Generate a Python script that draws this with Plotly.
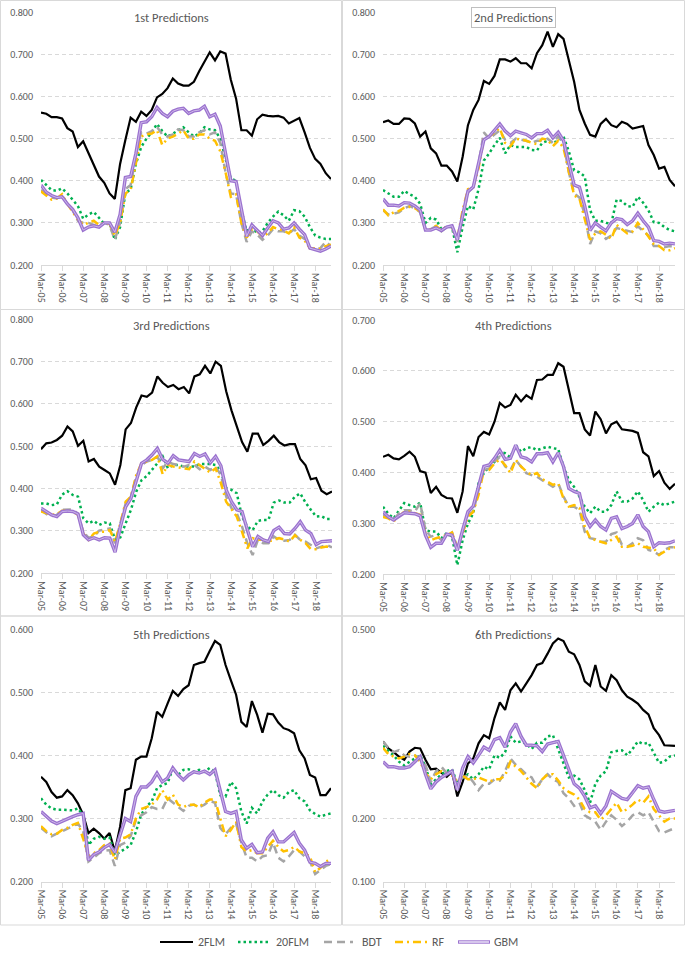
import plotly.graph_objects as go

W, H = 685, 956

# ---------------- categories / ticks ----------------
MONTHS = ["Mar", "Jun", "Sep", "Dec"]
YEARS = ["05", "06", "07", "08", "09", "10", "11", "12", "13", "14", "15", "16", "17", "18"]
QUARTERS = [f"{m}-{y}" for y in YEARS for m in MONTHS]
TICK_LABELS = ["Mar-05", "Mar-06", "Mar-07", "Mar-08", "Mar-09", "Mar-10", "Mar-11",
               "Mar-12", "Mar-13", "Mar-14", "Mar-15", "Mar-16", "Mar-17", "Mar-18"]

SERIES_NAMES = ["2FLM", "20FLM", "BDT", "RF", "GBM"]
PANEL_TITLES = ["1st Predictions", "2nd Predictions", "3rd Predictions",
                "4th Predictions", "5th Predictions", "6th Predictions"]

# ---------------- panel 1 ----------------
P1_2FLM = [0.562,0.559,0.551,0.551, 0.548,0.525,0.517,0.480, 0.494,0.465,0.435,0.410, 0.395,0.370,0.357,0.440,
           0.497,0.550,0.540,0.564, 0.554,0.568,0.598,0.606, 0.620,0.643,0.631,0.626, 0.626,0.635,0.660,0.684,
           0.705,0.686,0.707,0.702, 0.640,0.595,0.520,0.520, 0.507,0.546,0.557,0.554, 0.553,0.554,0.550,0.536,
           0.543,0.549,0.515,0.478, 0.452,0.440,0.418,0.404]
P1_20FLM = [0.402,0.390,0.378,0.376, 0.382,0.370,0.356,0.340, 0.310,0.320,0.326,0.312, 0.298,0.300,0.260,0.290,
            0.370,0.380,0.440,0.480, 0.500,0.515,0.535,0.518, 0.505,0.512,0.520,0.527, 0.515,0.505,0.512,0.527,
            0.522,0.520,0.500,0.450, 0.405,0.400,0.330,0.280, 0.290,0.275,0.280,0.300, 0.315,0.327,0.318,0.305,
            0.330,0.328,0.315,0.290, 0.270,0.265,0.262,0.262]
P1_BDT = [0.378,0.370,0.360,0.358, 0.365,0.345,0.330,0.305, 0.300,0.300,0.295,0.295, 0.300,0.295,0.260,0.300,
          0.380,0.390,0.460,0.515, 0.512,0.518,0.528,0.510, 0.505,0.510,0.522,0.520, 0.505,0.505,0.515,0.520,
          0.510,0.515,0.490,0.420, 0.370,0.368,0.300,0.255, 0.280,0.272,0.260,0.270, 0.285,0.280,0.280,0.275,
          0.285,0.270,0.262,0.240, 0.238,0.240,0.255,0.245]
P1_RF = [0.375,0.365,0.355,0.358, 0.368,0.345,0.325,0.308, 0.295,0.300,0.305,0.295, 0.300,0.298,0.270,0.300,
         0.370,0.378,0.440,0.505, 0.510,0.512,0.520,0.485, 0.500,0.505,0.512,0.520, 0.500,0.500,0.510,0.510,
         0.500,0.495,0.470,0.420, 0.362,0.368,0.300,0.265, 0.285,0.280,0.268,0.275, 0.290,0.285,0.282,0.275,
         0.290,0.265,0.258,0.240, 0.240,0.238,0.245,0.248]
P1_GBM = [0.390,0.373,0.365,0.360, 0.362,0.345,0.332,0.312, 0.283,0.290,0.293,0.290, 0.300,0.300,0.278,0.320,
          0.408,0.410,0.465,0.538, 0.540,0.552,0.574,0.560, 0.552,0.565,0.570,0.572, 0.560,0.566,0.568,0.577,
          0.552,0.558,0.530,0.460, 0.400,0.398,0.330,0.268, 0.295,0.283,0.270,0.288, 0.305,0.300,0.285,0.288,
          0.300,0.285,0.272,0.240, 0.237,0.233,0.238,0.245]

# ---------------- panel 2 ----------------
P2_2FLM = [0.539,0.543,0.535,0.535, 0.548,0.547,0.536,0.505, 0.517,0.477,0.465,0.436, 0.436,0.422,0.398,0.457,
           0.532,0.568,0.592,0.637, 0.630,0.649,0.688,0.688, 0.683,0.691,0.679,0.679, 0.667,0.703,0.722,0.754,
           0.718,0.748,0.737,0.687, 0.635,0.568,0.536,0.509, 0.505,0.535,0.547,0.532, 0.527,0.540,0.535,0.524,
           0.527,0.530,0.485,0.461, 0.429,0.433,0.402,0.387]
P2_20FLM = [0.378,0.370,0.362,0.362, 0.376,0.368,0.362,0.345, 0.300,0.312,0.308,0.285, 0.290,0.290,0.230,0.290,
            0.340,0.332,0.380,0.448, 0.465,0.485,0.502,0.465, 0.485,0.480,0.480,0.480, 0.473,0.472,0.490,0.495,
            0.490,0.495,0.505,0.470, 0.425,0.420,0.410,0.330, 0.305,0.305,0.300,0.298, 0.355,0.352,0.340,0.338,
            0.362,0.348,0.330,0.302, 0.300,0.290,0.283,0.280]
P2_BDT = [0.330,0.320,0.322,0.325, 0.335,0.340,0.335,0.325, 0.285,0.285,0.292,0.280, 0.290,0.292,0.255,0.310,
          0.372,0.385,0.440,0.515, 0.500,0.510,0.520,0.497, 0.490,0.500,0.497,0.495, 0.490,0.495,0.495,0.500,
          0.490,0.505,0.490,0.420, 0.370,0.360,0.320,0.250, 0.280,0.275,0.262,0.270, 0.288,0.285,0.282,0.278,
          0.292,0.280,0.270,0.245, 0.245,0.242,0.245,0.242]
P2_RF = [0.332,0.318,0.325,0.328, 0.336,0.338,0.335,0.327, 0.283,0.285,0.293,0.282, 0.292,0.290,0.262,0.330,
         0.380,0.385,0.430,0.500, 0.505,0.515,0.525,0.490, 0.482,0.500,0.497,0.495, 0.490,0.487,0.500,0.497,
         0.482,0.495,0.478,0.420, 0.365,0.358,0.310,0.260, 0.275,0.280,0.272,0.262, 0.295,0.285,0.275,0.280,
         0.300,0.285,0.268,0.250, 0.245,0.235,0.235,0.240]
P2_GBM = [0.357,0.342,0.342,0.340, 0.348,0.347,0.340,0.330, 0.283,0.283,0.288,0.282, 0.290,0.293,0.260,0.320,
          0.375,0.385,0.440,0.497, 0.505,0.520,0.535,0.518, 0.507,0.518,0.513,0.510, 0.502,0.512,0.512,0.520,
          0.502,0.515,0.495,0.440, 0.390,0.385,0.340,0.282, 0.300,0.290,0.281,0.300, 0.310,0.308,0.296,0.305,
          0.323,0.305,0.290,0.258, 0.256,0.250,0.252,0.250]

# ---------------- panel 3 ----------------
P3_2FLM = [0.493,0.507,0.509,0.515, 0.525,0.547,0.535,0.501, 0.513,0.464,0.470,0.452, 0.444,0.436,0.409,0.456,
           0.540,0.555,0.592,0.620, 0.617,0.627,0.665,0.650, 0.640,0.645,0.635,0.640, 0.625,0.665,0.670,0.690,
           0.672,0.700,0.690,0.630, 0.585,0.545,0.510,0.487, 0.530,0.530,0.503,0.513, 0.525,0.510,0.502,0.505,
           0.505,0.470,0.455,0.422, 0.425,0.395,0.387,0.393]
P3_20FLM = [0.365,0.365,0.361,0.363, 0.386,0.394,0.385,0.381, 0.330,0.318,0.324,0.314, 0.320,0.318,0.279,0.285,
            0.318,0.350,0.393,0.420, 0.430,0.444,0.460,0.476, 0.448,0.456,0.456,0.452, 0.452,0.452,0.458,0.458,
            0.458,0.456,0.440,0.401, 0.397,0.389,0.334,0.310, 0.302,0.324,0.326,0.326, 0.367,0.372,0.367,0.367,
            0.381,0.389,0.367,0.350, 0.334,0.335,0.328,0.328]
P3_BDT = [0.350,0.340,0.335,0.338, 0.350,0.350,0.351,0.340, 0.298,0.284,0.287,0.301, 0.304,0.306,0.271,0.318,
          0.365,0.381,0.428,0.456, 0.464,0.468,0.476,0.448, 0.464,0.458,0.456,0.452, 0.456,0.456,0.446,0.452,
          0.444,0.452,0.432,0.381, 0.354,0.342,0.310,0.271, 0.243,0.279,0.271,0.271, 0.287,0.279,0.277,0.279,
          0.291,0.279,0.275,0.267, 0.259,0.263,0.267,0.261]
P3_RF = [0.346,0.342,0.338,0.340, 0.348,0.348,0.346,0.338, 0.294,0.279,0.294,0.298, 0.298,0.302,0.275,0.318,
         0.369,0.381,0.432,0.460, 0.464,0.468,0.476,0.434, 0.456,0.452,0.450,0.448, 0.446,0.464,0.456,0.448,
         0.438,0.448,0.413,0.369, 0.350,0.334,0.298,0.259, 0.283,0.279,0.279,0.275, 0.279,0.283,0.280,0.275,
         0.290,0.279,0.271,0.257, 0.257,0.261,0.263,0.261]
P3_GBM = [0.354,0.346,0.338,0.334, 0.346,0.347,0.346,0.340, 0.291,0.279,0.284,0.279, 0.284,0.283,0.250,0.310,
          0.357,0.377,0.420,0.460, 0.468,0.480,0.495,0.469, 0.460,0.478,0.468,0.465, 0.464,0.483,0.476,0.482,
          0.461,0.476,0.454,0.397, 0.369,0.350,0.346,0.302, 0.263,0.287,0.279,0.275, 0.301,0.309,0.294,0.293,
          0.306,0.322,0.302,0.294, 0.268,0.275,0.275,0.277]

# ---------------- panel 4 ----------------
P4_2FLM = [0.431,0.435,0.428,0.426, 0.433,0.441,0.431,0.403, 0.400,0.360,0.372,0.356, 0.350,0.349,0.321,0.363,
           0.452,0.432,0.470,0.480, 0.475,0.500,0.537,0.528, 0.533,0.553,0.540,0.552, 0.545,0.582,0.583,0.592,
           0.592,0.615,0.608,0.560, 0.517,0.517,0.485,0.473, 0.520,0.505,0.477,0.495, 0.500,0.485,0.483,0.482,
           0.478,0.440,0.432,0.393, 0.403,0.380,0.368,0.378]
P4_20FLM = [0.333,0.319,0.310,0.326, 0.340,0.336,0.333,0.341, 0.287,0.284,0.284,0.271, 0.281,0.274,0.218,0.267,
            0.300,0.320,0.379,0.399, 0.412,0.421,0.441,0.438, 0.430,0.454,0.441,0.448, 0.450,0.444,0.448,0.451,
            0.448,0.446,0.412,0.385, 0.372,0.353,0.333,0.320, 0.333,0.323,0.323,0.336, 0.363,0.343,0.343,0.349,
            0.363,0.346,0.323,0.333, 0.341,0.336,0.340,0.343]
P4_BDT = [0.317,0.312,0.307,0.320, 0.326,0.326,0.323,0.340, 0.287,0.274,0.277,0.267, 0.274,0.282,0.254,0.281,
          0.317,0.323,0.366,0.405, 0.408,0.421,0.431,0.412, 0.405,0.425,0.412,0.399, 0.395,0.392,0.385,0.379,
          0.372,0.379,0.353,0.333, 0.333,0.326,0.284,0.271, 0.269,0.264,0.264,0.279, 0.282,0.258,0.254,0.261,
          0.271,0.267,0.248,0.245, 0.238,0.248,0.253,0.253]
P4_RF = [0.313,0.310,0.304,0.313, 0.323,0.323,0.320,0.317, 0.281,0.267,0.271,0.274, 0.277,0.282,0.251,0.281,
         0.313,0.323,0.356,0.405, 0.405,0.418,0.426,0.415, 0.399,0.425,0.412,0.402, 0.395,0.399,0.387,0.382,
         0.376,0.379,0.349,0.333, 0.336,0.330,0.294,0.271, 0.267,0.264,0.261,0.267, 0.274,0.254,0.254,0.256,
         0.261,0.254,0.253,0.251, 0.238,0.245,0.251,0.253]
P4_GBM = [0.323,0.313,0.307,0.315, 0.321,0.320,0.319,0.315, 0.277,0.253,0.261,0.261, 0.279,0.277,0.247,0.287,
          0.323,0.334,0.372,0.412, 0.415,0.428,0.444,0.426, 0.428,0.454,0.431,0.428, 0.421,0.437,0.437,0.439,
          0.421,0.439,0.412,0.369, 0.363,0.359,0.313,0.294, 0.307,0.294,0.287,0.310, 0.313,0.290,0.294,0.300,
          0.317,0.294,0.284,0.254, 0.262,0.261,0.262,0.266]

# ---------------- panel 5 ----------------
P5_2FLM = [0.366,0.358,0.342,0.333, 0.335,0.345,0.337,0.324, 0.306,0.277,0.284,0.277, 0.268,0.277,0.248,0.287,
           0.345,0.348,0.393,0.398, 0.398,0.427,0.469,0.461, 0.482,0.502,0.494,0.505, 0.511,0.543,0.546,0.548,
           0.565,0.581,0.575,0.543, 0.519,0.496,0.453,0.445, 0.486,0.464,0.436,0.466, 0.465,0.452,0.443,0.440,
           0.435,0.408,0.395,0.369, 0.365,0.337,0.337,0.348]
P5_20FLM = [0.332,0.322,0.316,0.314, 0.314,0.314,0.313,0.316, 0.305,0.258,0.268,0.271, 0.268,0.270,0.242,0.247,
            0.253,0.258,0.279,0.306, 0.319,0.327,0.348,0.353, 0.356,0.379,0.369,0.377, 0.378,0.374,0.377,0.374,
            0.380,0.374,0.337,0.335, 0.358,0.348,0.311,0.292, 0.317,0.308,0.327,0.338, 0.345,0.337,0.333,0.342,
            0.345,0.332,0.327,0.313, 0.307,0.303,0.306,0.308]
P5_BDT = [0.285,0.278,0.272,0.276, 0.280,0.284,0.288,0.292, 0.280,0.232,0.238,0.245, 0.249,0.250,0.225,0.258,
          0.262,0.272,0.298,0.305, 0.310,0.318,0.315,0.315, 0.332,0.325,0.318,0.312, 0.320,0.322,0.318,0.322,
          0.328,0.325,0.285,0.275, 0.285,0.292,0.262,0.238, 0.238,0.232,0.240,0.242, 0.262,0.238,0.232,0.240,
          0.250,0.248,0.240,0.232, 0.212,0.218,0.225,0.228]
P5_RF = [0.288,0.280,0.275,0.276, 0.282,0.285,0.290,0.293, 0.268,0.240,0.245,0.250, 0.258,0.260,0.235,0.268,
         0.270,0.275,0.300,0.315, 0.318,0.322,0.330,0.345, 0.330,0.338,0.322,0.318, 0.322,0.322,0.318,0.325,
         0.330,0.330,0.300,0.272, 0.282,0.295,0.255,0.248, 0.250,0.245,0.245,0.255, 0.265,0.255,0.248,0.250,
         0.255,0.248,0.245,0.240, 0.215,0.222,0.232,0.235]
P5_GBM = [0.311,0.303,0.296,0.292, 0.296,0.299,0.303,0.306, 0.308,0.234,0.243,0.247, 0.254,0.259,0.246,0.274,
          0.300,0.295,0.335,0.350, 0.350,0.358,0.372,0.358, 0.364,0.380,0.369,0.361, 0.369,0.374,0.372,0.375,
          0.370,0.377,0.342,0.311, 0.308,0.311,0.266,0.253, 0.259,0.246,0.247,0.269, 0.279,0.263,0.263,0.271,
          0.278,0.261,0.250,0.231, 0.229,0.224,0.229,0.229]

# ---------------- panel 6 ----------------
P6_2FLM = [0.322,0.311,0.305,0.298, 0.293,0.306,0.312,0.311, 0.293,0.278,0.279,0.272, 0.266,0.274,0.235,0.258,
           0.287,0.295,0.319,0.332, 0.327,0.359,0.384,0.372, 0.403,0.414,0.401,0.414, 0.427,0.443,0.446,0.461,
           0.477,0.485,0.481,0.464, 0.460,0.443,0.417,0.410, 0.443,0.409,0.402,0.427, 0.419,0.403,0.393,0.388,
           0.382,0.372,0.365,0.343, 0.332,0.316,0.316,0.315]
P6_20FLM = [0.315,0.308,0.300,0.290, 0.284,0.290,0.295,0.300, 0.282,0.255,0.262,0.270, 0.275,0.278,0.255,0.265,
            0.270,0.262,0.270,0.282, 0.278,0.300,0.296,0.305, 0.330,0.320,0.322,0.318, 0.310,0.320,0.320,0.330,
            0.332,0.310,0.285,0.265, 0.268,0.262,0.245,0.225, 0.255,0.268,0.275,0.305, 0.307,0.308,0.300,0.310,
            0.322,0.318,0.320,0.305, 0.288,0.290,0.298,0.300]
P6_BDT = [0.322,0.312,0.305,0.308, 0.300,0.298,0.300,0.295, 0.285,0.258,0.275,0.282, 0.272,0.270,0.258,0.265,
          0.268,0.258,0.245,0.255, 0.255,0.262,0.260,0.275, 0.295,0.285,0.278,0.270, 0.265,0.250,0.262,0.270,
          0.262,0.258,0.240,0.232, 0.220,0.225,0.205,0.200, 0.195,0.182,0.195,0.205, 0.198,0.188,0.195,0.205,
          0.210,0.205,0.210,0.195, 0.180,0.178,0.182,0.185]
P6_RF = [0.312,0.302,0.298,0.295, 0.298,0.302,0.300,0.290, 0.272,0.262,0.270,0.275, 0.270,0.268,0.258,0.268,
         0.262,0.262,0.265,0.262, 0.258,0.262,0.262,0.268, 0.290,0.282,0.275,0.265, 0.255,0.248,0.262,0.270,
         0.270,0.260,0.248,0.242, 0.238,0.230,0.215,0.210, 0.210,0.198,0.205,0.215, 0.225,0.210,0.215,0.222,
         0.230,0.225,0.235,0.215, 0.205,0.195,0.200,0.200]
P6_GBM = [0.290,0.282,0.282,0.280, 0.280,0.282,0.290,0.298, 0.270,0.247,0.258,0.265, 0.270,0.275,0.245,0.280,
          0.298,0.288,0.300,0.313, 0.308,0.325,0.328,0.313, 0.337,0.350,0.330,0.316, 0.316,0.315,0.306,0.318,
          0.320,0.322,0.300,0.278, 0.255,0.248,0.235,0.217, 0.220,0.208,0.220,0.243, 0.237,0.232,0.230,0.240,
          0.252,0.248,0.250,0.230, 0.212,0.210,0.212,0.213]

PANEL_DATA = [
    [P1_2FLM, P1_20FLM, P1_BDT, P1_RF, P1_GBM],
    [P2_2FLM, P2_20FLM, P2_BDT, P2_RF, P2_GBM],
    [P3_2FLM, P3_20FLM, P3_BDT, P3_RF, P3_GBM],
    [P4_2FLM, P4_20FLM, P4_BDT, P4_RF, P4_GBM],
    [P5_2FLM, P5_20FLM, P5_BDT, P5_RF, P5_GBM],
    [P6_2FLM, P6_20FLM, P6_BDT, P6_RF, P6_GBM],
]
Y_RANGES = [(0.2, 0.8), (0.2, 0.8), (0.2, 0.8), (0.2, 0.7), (0.2, 0.6), (0.1, 0.5)]

# ---------------- layout (pixel geometry) ----------------
AREAS = [
    (41, 331, 12.3, 265.0),
    (383, 675, 12.3, 265.0),
    (41, 332, 319.3, 573.3),
    (383, 675, 320.0, 574.3),
    (41, 331, 629.0, 881.7),
    (383, 675, 629.0, 881.7),
]
TITLE_POS = [(171, 17), (513.5, 17), (171, 326), (513.5, 326), (171, 634), (513.5, 634)]

TXT = "#595959"
GRID = "#D9D9D9"
FONT = "Carlito, Calibri, Liberation Sans, Arial, sans-serif"

STYLES = {
    "2FLM": dict(color="#000000", width=2.2, dash="solid"),
    "20FLM": dict(color="#00B050", width=2.5, dash="2.5px,3px"),
    "BDT": dict(color="#A5A5A5", width=2.5, dash="8px,5px"),
    "RF": dict(color="#FFC000", width=2.5, dash="8px,4px,2px,4px"),
    "GBM": dict(color="#9B72CF", width=3.4, dash="solid"),
}
GBM_INNER = dict(color="#D2C0EC", width=0.9)


def px_x(x):
    return x / W


def px_y(y):
    return 1 - y / H


fig = go.Figure()
layout = dict(
    width=W, height=H, autosize=False,
    margin=dict(l=0, r=0, t=0, b=0, pad=0, autoexpand=False),
    paper_bgcolor="white", plot_bgcolor="white",
    showlegend=False,
    font=dict(family=FONT, color=TXT, size=10),
)

for k in range(6):
    xa = "x" if k == 0 else f"x{k + 1}"
    ya = "y" if k == 0 else f"y{k + 1}"
    xl, xr, yt, yb = AREAS[k]
    ymin, ymax = Y_RANGES[k]
    for name, vals in zip(SERIES_NAMES, PANEL_DATA[k]):
        st = STYLES[name]
        fig.add_trace(go.Scatter(
            x=QUARTERS, y=vals, mode="lines", name=name,
            line=dict(color=st["color"], width=st["width"], dash=st["dash"]),
            xaxis=xa, yaxis=ya, hoverinfo="skip",
        ))
        if name == "GBM":
            fig.add_trace(go.Scatter(
                x=QUARTERS, y=vals, mode="lines", name=name,
                line=dict(color=GBM_INNER["color"], width=GBM_INNER["width"]),
                xaxis=xa, yaxis=ya, hoverinfo="skip",
            ))
    xkey = "xaxis" if k == 0 else f"xaxis{k + 1}"
    ykey = "yaxis" if k == 0 else f"yaxis{k + 1}"
    layout[xkey] = dict(
        domain=[px_x(xl), px_x(xr)], anchor=ya, automargin=False,
        type="category", categoryorder="array", categoryarray=QUARTERS,
        range=[0, len(QUARTERS) - 1],
        tickmode="array", tickvals=TICK_LABELS, ticktext=TICK_LABELS,
        tickangle=90, tickfont=dict(size=10, color=TXT, family=FONT),
        showgrid=False, zeroline=False,
        showline=True, linecolor=GRID, linewidth=1,
        ticks="outside", ticklen=5, tickcolor=GRID,
        fixedrange=True,
    )
    layout[ykey] = dict(
        domain=[px_y(yb), px_y(yt)], anchor=xa, automargin=False,
        range=[ymin, ymax], dtick=0.1, tick0=ymin, tickformat=".3f",
        tickfont=dict(size=10, color=TXT, family=FONT),
        showgrid=True, gridcolor=GRID, griddash="4px,3px", gridwidth=1,
        zeroline=False, showline=False, ticks="", ticklabelstandoff=7,
        fixedrange=True,
    )

fig.update_layout(**layout)

# panel titles
for k, (tx, ty) in enumerate(TITLE_POS):
    extra = {}
    if k == 1:
        extra = dict(bordercolor="#BFBFBF", borderwidth=1, borderpad=2, bgcolor="white")
    fig.add_annotation(
        x=px_x(tx), y=px_y(ty), xref="paper", yref="paper",
        text=PANEL_TITLES[k], showarrow=False, xanchor="center", yanchor="middle",
        font=dict(size=12.5, color=TXT, family=FONT), **extra,
    )

# panel frames
ROWS = [(0.5, 309.5), (309.5, 616.0), (616.0, 925.0)]
COLS = [(0.5, 341.5), (342.5, 684.5)]
for (y0, y1) in ROWS:
    for (x0, x1) in COLS:
        fig.add_shape(type="rect", xref="paper", yref="paper",
                      x0=px_x(x0), x1=px_x(x1), y0=px_y(y1), y1=px_y(y0),
                      line=dict(color=GRID, width=1), fillcolor="rgba(0,0,0,0)", layer="below")

# custom legend
LEG_Y = 942
LEG_ITEMS = [(160, 193, 196), (238, 268, 274), (324, 353, 360), (395, 428, 430), (458, 490, 492)]
for name, (x0, x1, tx) in zip(SERIES_NAMES, LEG_ITEMS):
    st = STYLES[name]
    fig.add_shape(type="line", xref="paper", yref="paper",
                  x0=px_x(x0), x1=px_x(x1), y0=px_y(LEG_Y), y1=px_y(LEG_Y),
                  line=dict(color=st["color"], width=st["width"], dash=st["dash"]))
    if name == "GBM":
        fig.add_shape(type="line", xref="paper", yref="paper",
                      x0=px_x(x0 + 1), x1=px_x(x1 - 1), y0=px_y(LEG_Y), y1=px_y(LEG_Y),
                      line=dict(color="white", width=1.2))
    fig.add_annotation(x=px_x(tx), y=px_y(LEG_Y), xref="paper", yref="paper",
                       text=name, showarrow=False, xanchor="left", yanchor="middle",
                       font=dict(size=12, color=TXT, family=FONT))

fig.write_html(
    "out.html",
    config={"displayModeBar": False, "staticPlot": True},
    post_script="document.body.style.margin='0';document.body.style.overflow='hidden';",
)
